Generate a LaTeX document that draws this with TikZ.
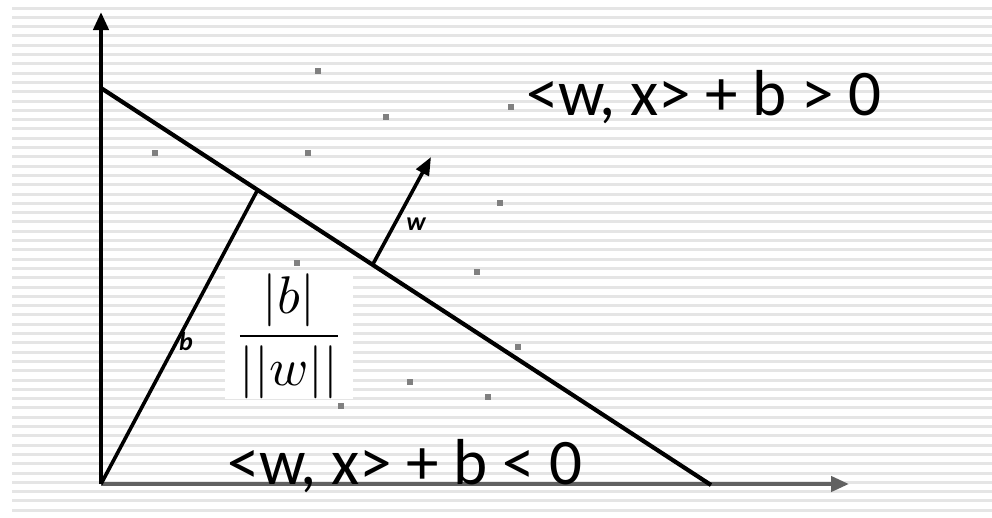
\documentclass[tikz,border=0pt]{standalone}
\usepackage{fontspec}
\setmainfont{Carlito}
\usetikzlibrary{arrows.meta}
\begin{document}
\begin{tikzpicture}[x=1pt,y=-1pt,
  stripe/.style={draw=black!10,line width=3pt},
  axisline/.style={line width=4.2pt,-{Triangle[length=18pt,width=15pt]}},
  plane/.style={line width=4.2pt},
  vecline/.style={line width=3.6pt},
  pt/.style={fill=black!50,minimum size=6.5pt,inner sep=0pt,draw=none,rectangle},
  ineq/.style={font=\fontsize{65}{70}\selectfont,inner sep=0pt,anchor=base west},
  small/.style={font=\fontsize{26}{28}\selectfont\itshape\bfseries,inner sep=0pt}]
\useasboundingbox (0,0) rectangle (992,517);
\fill[white] (0,0) rectangle (992,517);
\foreach \i in {0,...,54} { \draw[stripe] (12,{8+9.3*\i}) -- (992,{8+9.3*\i}); }
% points
\foreach \n/\p in {p1/{(318,71)},p2/{(386,117)},p3/{(511,107)},p4/{(155,153)},p5/{(308,153)},p6/{(500,203)},p7/{(297,263)},p8/{(477,272)},p9/{(518,347)},p10/{(410,382)},p11/{(488,397)},p12/{(341,406)}}
  { \node[pt] (\n) at \p {}; }
% fraction box
\node[fill=white,minimum width=128pt,minimum height=124pt,inner sep=0pt] (frac) at (289,336)
  {\scalebox{5.3}{$\displaystyle\frac{|b|}{||w||}$}};
% axes
\coordinate (O) at (101,484);
\coordinate (ytip) at (101,12);
\coordinate (xtip) at (849,484);
\draw[axisline] (O) -- (ytip);
\draw[axisline,draw=black!62,fill=black] (O) -- (xtip);
% hyperplane
\coordinate (h1) at (101,88);
\coordinate (h2) at (711,485);
\draw[plane] (h1) -- (h2);
% normal from origin
\coordinate (foot) at (257,191);
\draw[vecline] (O) -- (foot);
% w vector
\coordinate (wbase) at (373,264);
\coordinate (wtip) at (431,157);
\draw[vecline,-{Triangle[length=18pt,width=14pt]}] (wbase) -- (wtip);
\node[small] (wl) at (416,224) {w};
\node[small] (bl) at (186,341) {b};
% texts
\node[ineq] (up) at (526,115) {<w, x> + b > 0};
\node[ineq] (down) at (227,484) {<w, x> + b < 0};
\end{tikzpicture}
\end{document}
